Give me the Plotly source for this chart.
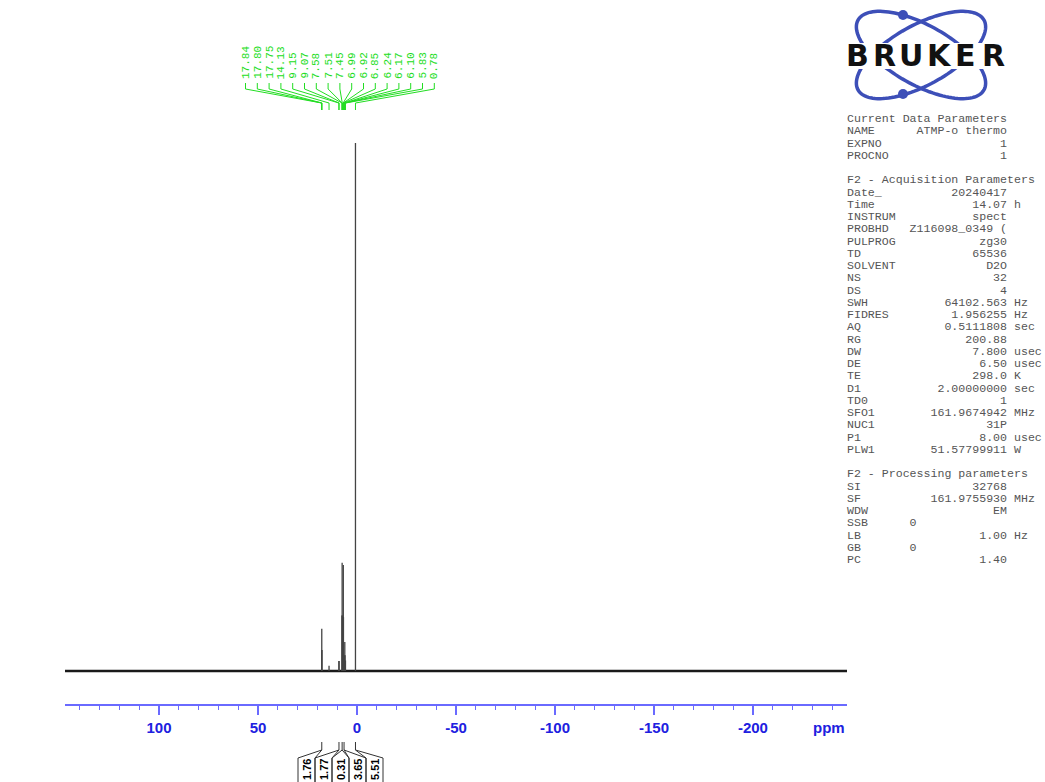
import numpy as np
import plotly.graph_objects as go

# ---------------- data ----------------
peak_labels = ["17.84", "17.80", "17.75", "14.13", "9.15", "9.07", "7.58", "7.51", "7.45",
               "6.99", "6.92", "6.85", "6.24", "6.17", "6.10", "5.83", "0.78"]
peak_ppm = [float(s) for s in peak_labels]
peak_height = [4.0, 8.0, 4.0, 1.0, 1.9, 1.9, 10.5, 20.5, 10.5,
               10.2, 20.1, 10.2, 3.0, 5.5, 3.0, 2.0, 100.0]

integral_center_ppm = [17.80, 9.11, 7.51, 6.55, 0.78]
integral_values = ["1.76", "1.77", "0.31", "3.65", "5.51"]

tick_values = [100, 50, 0, -50, -100, -150, -200]
tick_labels = [str(v) for v in tick_values]

param_rows = [
    ("Current Data Parameters",),
    ("NAME", "ATMP-o thermo", ""),
    ("EXPNO", "1", ""),
    ("PROCNO", "1", ""),
    None,
    ("F2 - Acquisition Parameters",),
    ("Date_", "20240417", ""),
    ("Time", "14.07", "h"),
    ("INSTRUM", "spect", ""),
    ("PROBHD", "Z116098_0349 (", ""),
    ("PULPROG", "zg30", ""),
    ("TD", "65536", ""),
    ("SOLVENT", "D2O", ""),
    ("NS", "32", ""),
    ("DS", "4", ""),
    ("SWH", "64102.563", "Hz"),
    ("FIDRES", "1.956255", "Hz"),
    ("AQ", "0.5111808", "sec"),
    ("RG", "200.88", ""),
    ("DW", "7.800", "usec"),
    ("DE", "6.50", "usec"),
    ("TE", "298.0", "K"),
    ("D1", "2.00000000", "sec"),
    ("TD0", "1", ""),
    ("SFO1", "161.9674942", "MHz"),
    ("NUC1", "31P", ""),
    ("P1", "8.00", "usec"),
    ("PLW1", "51.57799911", "W"),
    None,
    ("F2 - Processing parameters",),
    ("SI", "32768", ""),
    ("SF", "161.9755930", "MHz"),
    ("WDW", "EM", ""),
    ("SSB", "0", "", 10),
    ("LB", "1.00", "Hz"),
    ("GB", "0", "", 10),
    ("PC", "1.40", ""),
]

# ---------------- layout geometry ----------------
W, H = 1045, 782
ML, MR, MT, MB = 65, 198, 30, 0
PW = W - ML - MR
PH = H - MT - MB
X_LEFT, X_RIGHT = 147.5, -247.5
Y_MIN, Y_MAX = -21.02, 121.40
AXIS_PY = 705


def px_to_ppm(px):
    return X_LEFT + (px - ML) / PW * (X_RIGHT - X_LEFT)


def py_to_y(py):
    return Y_MIN + (H - MB - py) / PH * (Y_MAX - Y_MIN)


def px_paper(px):
    return (px - ML) / PW


def py_paper(py):
    return (H - MB - py) / PH


fig = go.Figure()

# baseline
fig.add_trace(go.Scatter(x=[X_LEFT, X_RIGHT], y=[0, 0], mode="lines",
                         line=dict(color="#1a1a1a", width=2.4), hoverinfo="skip"))

# peaks as sticks
sx, sy = [], []
for p, h in zip(peak_ppm, peak_height):
    sx += [p, p, None]
    sy += [0, h, None]
fig.add_trace(go.Scatter(x=sx, y=sy, mode="lines",
                         line=dict(color="#444444", width=1.3), hoverinfo="skip"))

# peak label connectors (green)
GREEN = "#22dd22"
gx, gy = [], []
annotations = []
for i, (lab, p) in enumerate(zip(peak_labels, peak_ppm)):
    lpx = 245.5 + i * 11.8
    lx = px_to_ppm(lpx)
    gx += [lx, lx, p, p, None]
    gy += [py_to_y(83), py_to_y(89), py_to_y(103), py_to_y(110), None]
    annotations.append(dict(x=lx, y=py_to_y(81), xref="x", yref="y", text=lab,
                            textangle=-90, showarrow=False, xanchor="center", yanchor="bottom",
                            font=dict(family="Liberation Mono", size=11, color=GREEN)))
fig.add_trace(go.Scatter(x=gx, y=gy, mode="lines",
                         line=dict(color=GREEN, width=1), hoverinfo="skip"))

# integral label boxes
edges = [298, 315, 332, 349, 366, 383]
ix, iy = [], []
for k, (c, v) in enumerate(zip(integral_center_ppm, integral_values)):
    left, right = px_to_ppm(edges[k]), px_to_ppm(edges[k + 1])
    ix += [left, left, c, c, None, c, right, right, None]
    iy += [py_to_y(790), py_to_y(758), py_to_y(750), py_to_y(742), None,
           py_to_y(750), py_to_y(758), py_to_y(790), None]
    annotations.append(dict(x=px_to_ppm((edges[k] + edges[k + 1]) / 2), y=py_to_y(758),
                            xref="x", yref="y", text=v, textangle=-90, showarrow=False,
                            xanchor="center", yanchor="top", borderpad=0,
                            font=dict(family="Liberation Sans", size=11, color="black", weight="bold")))
fig.add_trace(go.Scatter(x=ix, y=iy, mode="lines",
                         line=dict(color="#333333", width=1), hoverinfo="skip"))

# ppm label
annotations.append(dict(x=px_paper(829), y=py_paper(727), xref="paper", yref="paper",
                        text="ppm", showarrow=False, xanchor="center", yanchor="middle",
                        font=dict(family="Liberation Sans", size=15, color="#2020e0", weight="bold")))

# parameter text
for k, row in enumerate(param_rows):
    if row is None:
        continue
    if len(row) == 1:
        line = row[0]
    else:
        name, val, unit = row[0], row[1], row[2]
        col = row[3] if len(row) > 3 else 23
        nsp = max(1, col - len(name) - len(val))
        line = name + " " * nsp + val + ((" " + unit) if unit else "")
    annotations.append(dict(x=px_paper(846), y=py_paper(118.5 + k * 12.25), xref="paper", yref="paper",
                            text=line.replace(" ", "\u00a0"), showarrow=False,
                            xanchor="left", yanchor="middle", borderpad=0,
                            font=dict(family="Liberation Mono", size=11.6, color="#555555")))

# Bruker logo
LOGO_BLUE = "#3d4fb8"
shapes = []


def ellipse_path(cx, cy, a, b, ang_deg):
    t = np.linspace(0, 2 * np.pi, 120)
    ang = np.radians(ang_deg)
    xs = cx + a * np.cos(t) * np.cos(ang) - b * np.sin(t) * np.sin(ang)
    ys = cy + a * np.cos(t) * np.sin(ang) + b * np.sin(t) * np.cos(ang)
    pts = [f"{px_paper(x):.5f},{py_paper(y):.5f}" for x, y in zip(xs, ys)]
    return "M " + " L ".join(pts) + " Z"


for ang in (29, -29):
    shapes.append(dict(type="path", xref="paper", yref="paper", path=ellipse_path(921, 55, 72, 30, ang),
                       line=dict(color=LOGO_BLUE, width=3.5), fillcolor="rgba(0,0,0,0)", layer="above"))
for (dx, dy) in [(903, 15), (903, 94)]:
    shapes.append(dict(type="circle", xref="paper", yref="paper",
                       x0=px_paper(dx - 5), x1=px_paper(dx + 5), y0=py_paper(dy + 5), y1=py_paper(dy - 5),
                       fillcolor=LOGO_BLUE, line=dict(color=LOGO_BLUE, width=0), layer="above"))
shapes.append(dict(type="rect", xref="paper", yref="paper",
                   x0=px_paper(842), x1=px_paper(1012), y0=py_paper(69), y1=py_paper(43),
                   fillcolor="white", line=dict(width=0), layer="above"))
for ch, cx in zip("BRUKER", [857, 884, 911, 939, 965, 993]):
    annotations.append(dict(x=px_paper(cx), y=py_paper(56), xref="paper", yref="paper",
                            text=ch, showarrow=False, xanchor="center", yanchor="middle",
                            font=dict(family="DejaVu Sans", size=30, color="#111111", weight="bold")))

AX_BLUE = "#6a6aff"
fig.update_layout(
    width=W, height=H,
    margin=dict(l=ML, r=MR, t=MT, b=MB, pad=0),
    paper_bgcolor="white", plot_bgcolor="white",
    showlegend=False,
    xaxis=dict(range=[X_LEFT, X_RIGHT], anchor="free", position=(H - AXIS_PY) / PH,
               showline=True, linecolor=AX_BLUE, linewidth=1.5,
               ticks="outside", ticklen=9, tickwidth=1.5, tickcolor=AX_BLUE,
               tickvals=tick_values, ticktext=tick_labels,
               tickfont=dict(family="Liberation Sans", size=15, color="#2020e0", weight="bold"),
               showgrid=False, zeroline=False,
               minor=dict(dtick=10, tick0=0, ticks="outside", ticklen=4, tickwidth=1,
                          tickcolor=AX_BLUE, showgrid=False)),
    yaxis=dict(range=[Y_MIN, Y_MAX], visible=False, showgrid=False, zeroline=False),
    annotations=annotations,
    shapes=shapes,
)

fig.write_html("out.html")
